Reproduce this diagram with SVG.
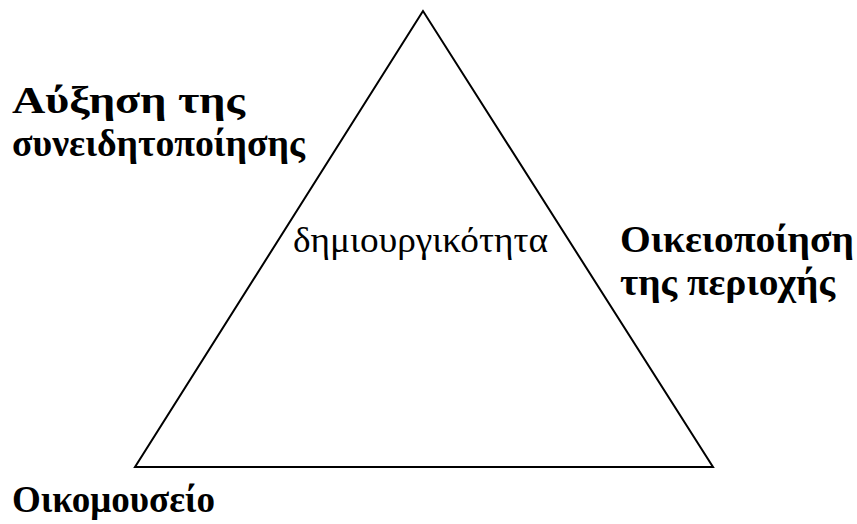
<svg xmlns="http://www.w3.org/2000/svg" width="857" height="524" viewBox="0 0 857 524">
<style>
.b{font-family:"Liberation Serif","Times New Roman",serif;font-weight:bold;font-size:37px;fill:#000}
.n{font-family:"Liberation Serif","Times New Roman",serif;font-size:36px;fill:#000}
</style>
<rect width="857" height="524" fill="#fff"/>
<g id="connectors">
<polygon id="triangle" points="423,11 135,467 713,467" fill="none" stroke="#000" stroke-width="2"/>
</g>
<g id="center"><text class="n" x="293" y="252" textLength="255" lengthAdjust="spacingAndGlyphs">δημιουργικότητα</text></g>
<g id="awareness"><text class="b" x="12" y="113" textLength="233" lengthAdjust="spacingAndGlyphs">Αύξηση της</text><text class="b" x="12" y="156" textLength="293" lengthAdjust="spacingAndGlyphs">συνειδητοποίησης</text></g>
<g id="appropriation"><text class="b" x="620" y="252" textLength="234" lengthAdjust="spacingAndGlyphs">Οικειοποίηση</text><text class="b" x="620" y="295" textLength="215" lengthAdjust="spacingAndGlyphs">της περιοχής</text></g>
<g id="ecomuseum"><text class="b" x="12" y="512" textLength="203" lengthAdjust="spacingAndGlyphs">Οικομουσείο</text></g>
</svg>
